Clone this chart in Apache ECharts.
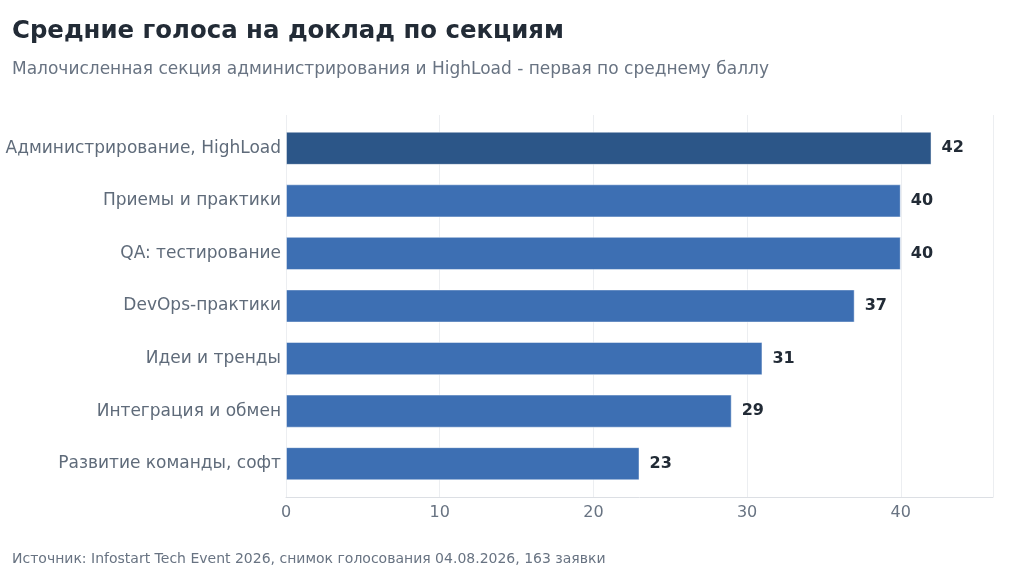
<!DOCTYPE html>
<html>
<head>
<meta charset="utf-8">
<script src="https://cdn.jsdelivr.net/npm/echarts@6/dist/echarts.min.js"></script>
<style>
  html, body { margin: 0; padding: 0; background: #fff; }
  #chart { width: 1024px; height: 578px; }
</style>
</head>
<body>
<div id="chart"></div>
<script>
// категории снизу вверх (как у оси category в ECharts)
const sections = [
  'Развитие команды, софт',
  'Интеграция и обмен',
  'Идеи и тренды',
  'DevOps-практики',
  'QA: тестирование',
  'Приемы и практики',
  'Администрирование, HighLoad'
];
const avgVotes = [23, 29, 31, 37, 40, 40, 42];
const xTicks = [0, 10, 20, 30, 40];

const leader = 'Администрирование, HighLoad';
const font = 'DejaVu Sans';

const chart = echarts.init(document.getElementById('chart'));

const barData = avgVotes.map(function (v, i) {
  return {
    value: v,
    itemStyle: { color: sections[i] === leader ? '#2c5688' : '#3d6fb3' }
  };
});

chart.setOption({
  animation: false,
  backgroundColor: '#ffffff',
  title: [
    {
      text: 'Средние голоса на доклад по секциям',
      left: 7, top: 15,
      textStyle: { fontFamily: font, fontSize: 24.4, fontWeight: 'bold', color: '#222b36' }
    },
    {
      text: 'Малочисленная секция администрирования и HighLoad - первая по среднему баллу',
      left: 7, top: 56,
      textStyle: { fontFamily: font, fontSize: 17, fontWeight: 'normal', color: '#687382' }
    },
    {
      text: 'Источник: Infostart Tech Event 2026, снимок голосования 04.08.2026, 163 заявки',
      left: 7, top: 547,
      textStyle: { fontFamily: font, fontSize: 14, fontWeight: 'normal', color: '#687382' }
    }
  ],
  // grid 0 - бары, grid 1 - сетка и ось X (чуть выше/ниже полос)
  grid: [
    { left: 286, right: 31, top: 122, bottom: 88, containLabel: false },
    { left: 286, right: 31, top: 115, bottom: 81, containLabel: false }
  ],
  xAxis: [
    {
      gridIndex: 0, type: 'value', min: 0, max: 46, interval: 10, show: false
    },
    {
      gridIndex: 1, type: 'value',
      min: 0, max: 46, interval: 10,
      axisLine: { show: true, lineStyle: { color: '#dcdfe4' } },
      axisTick: { show: false },
      splitLine: { show: true, lineStyle: { color: '#eceef1' } },
      axisLabel: {
        fontFamily: font, fontSize: 16, color: '#687382', margin: 8,
        formatter: function (v) { return xTicks.indexOf(v) >= 0 ? String(v) : ''; }
      }
    }
  ],
  yAxis: [
    {
      gridIndex: 0, type: 'category',
      data: sections,
      axisLine: { show: false },
      axisTick: { show: false },
      axisLabel: { fontFamily: font, fontSize: 17, color: '#5f6b7a', margin: 5 }
    },
    {
      gridIndex: 1, type: 'value', show: false
    }
  ],
  series: [{
    type: 'bar',
    xAxisIndex: 0, yAxisIndex: 0,
    data: barData,
    barCategoryGap: '37%',
    itemStyle: { borderColor: 'rgba(255,255,255,0.45)', borderWidth: 1 },
    label: {
      show: true, position: 'right', distance: 10,
      fontFamily: font, fontSize: 16, fontWeight: 'bold', color: '#222b36'
    }
  }]
});
</script>
</body>
</html>
